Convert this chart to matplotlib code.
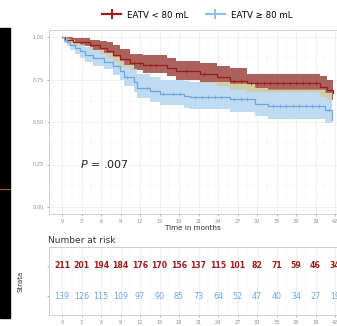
import matplotlib.pyplot as plt
import matplotlib.patches as mpatches
from matplotlib.lines import Line2D
import numpy as np

# Kaplan-Meier estimates
t_low = [0, 0.5, 1.7, 4.3, 5.8, 6.9, 7.9, 8.9, 10.5, 12.5, 16.1, 17.6, 21.2, 23.8, 25.8, 28.4, 39.7, 40.7, 41.7]
s_low = [1.00, 0.985, 0.973, 0.953, 0.935, 0.915, 0.895, 0.868, 0.848, 0.833, 0.817, 0.798, 0.782, 0.762, 0.740, 0.728, 0.708, 0.688, 0.669]
up_low = [1.00, 1.00, 0.995, 0.985, 0.978, 0.97, 0.955, 0.93, 0.9, 0.893, 0.875, 0.86, 0.845, 0.83, 0.818, 0.785, 0.77, 0.75, 0.735]
lo_low = [1.00, 0.965, 0.95, 0.925, 0.90, 0.875, 0.855, 0.825, 0.805, 0.79, 0.77, 0.75, 0.73, 0.71, 0.69, 0.675, 0.65, 0.63, 0.605]
cens_low = [11.0, 12.0, 13.5, 14.5, 19.0, 21.8, 26.5, 27.5, 29.0, 30.0, 31.0, 32.0, 33.0, 34.0, 35.0, 36.0, 37.0, 38.0, 39.0]

t_high = [0, 0.3, 0.8, 1.3, 2.0, 2.8, 3.6, 4.8, 6.4, 7.9, 8.9, 9.6, 11.0, 11.6, 13.5, 15.0, 18.7, 19.7, 25.8, 29.7, 31.7, 40.5, 41.5]
s_high = [1.00, 0.985, 0.97, 0.955, 0.935, 0.915, 0.895, 0.875, 0.855, 0.83, 0.80, 0.765, 0.735, 0.70, 0.68, 0.665, 0.653, 0.645, 0.633, 0.606, 0.594, 0.571, 0.512]
up_high = [1.00, 1.00, 0.99, 0.98, 0.97, 0.955, 0.94, 0.925, 0.905, 0.885, 0.86, 0.835, 0.81, 0.785, 0.765, 0.75, 0.74, 0.735, 0.725, 0.70, 0.69, 0.67, 0.62]
lo_high = [1.00, 0.965, 0.945, 0.925, 0.90, 0.875, 0.855, 0.83, 0.81, 0.775, 0.745, 0.71, 0.675, 0.64, 0.615, 0.60, 0.585, 0.575, 0.56, 0.535, 0.52, 0.495, 0.42]
cens_high = [10.0, 13.0, 15.5, 17.0, 18.2, 20.5, 21.5, 22.5, 23.5, 24.5, 26.5, 27.5, 28.5, 32.5, 33.5, 34.5, 35.5, 36.5, 37.5, 38.5, 39.5, 41.0]

risk_times = [0, 3, 6, 9, 12, 15, 18, 21, 24, 27, 30, 33, 36, 39, 42]
risk_low = [211, 201, 194, 184, 176, 170, 156, 137, 115, 101, 82, 71, 59, 46, 34]
risk_high = [139, 126, 115, 109, 97, 90, 85, 73, 64, 52, 47, 40, 34, 27, 19]

labels = ['EATV < 80 mL', 'EATV \u2265 80 mL']
red = '#9E1B1B'
blue = '#6EA6DC'
grey = '#8A8A8A'

fig = plt.figure(figsize=(3.37, 3.26), dpi=100)
W, H = 337, 326


def box(x0, y0, x1, y1):
    return [x0 / W, 1 - y1 / H, (x1 - x0) / W, (y1 - y0) / H]


def step_at(tt, vals, grid):
    idx = np.searchsorted(tt, grid, side='right') - 1
    return np.asarray(vals)[idx]


def style(ax):
    for sp in ax.spines.values():
        sp.set_color('#C8C8C8')
        sp.set_linewidth(0.6)
    ax.set_xticks(risk_times)
    ax.set_xticks(np.arange(-1.5, 43, 3), minor=True)
    ax.grid(True, which='major', color='#EAEAEA', lw=0.5)
    ax.grid(True, which='minor', color='#F3F3F3', lw=0.35)
    ax.set_axisbelow(True)
    ax.tick_params(which='major', length=1.5, width=0.4, color='#777777', labelsize=3.6, labelcolor=grey, pad=2)
    ax.tick_params(which='minor', length=0)
    ax.set_xlim(-2, 42.3)


# main survival panel
ax = fig.add_axes(box(49, 30.2, 337, 213.8))
style(ax)
ax.set_ylim(-0.04, 1.04)
ax.set_yticks([0, 0.25, 0.5, 0.75, 1.0])
ax.set_yticklabels(['0.00', '0.25', '0.50', '0.75', '1.00'])
ax.set_yticks([0.125, 0.375, 0.625, 0.875], minor=True)

ax.fill_between(t_low, lo_low, up_low, step='post', color='#A4534E', alpha=0.92, lw=0)
ax.fill_between(t_high, lo_high, up_high, step='post', color='#BCD9F1', alpha=0.95, lw=0)

# overlap of the two bands
grid = np.linspace(0, 41.7, 900)
ov_lo = np.maximum(step_at(t_low, lo_low, grid), step_at(t_high, lo_high, grid))
ov_hi = np.minimum(step_at(t_low, up_low, grid), step_at(t_high, up_high, grid))
ax.fill_between(grid, ov_lo, ov_hi, where=ov_hi > ov_lo, color='#CFCDA6', lw=0)

ax.step(t_low, s_low, where='post', color=red, lw=0.9)
ax.step(t_high, s_high, where='post', color=blue, lw=0.9)
ax.plot(cens_low, step_at(t_low, s_low, cens_low), ls='none', marker='|', ms=2.5, mew=0.5, color=red)
ax.plot(cens_high, step_at(t_high, s_high, cens_high), ls='none', marker='|', ms=2.5, mew=0.5, color=blue)

ax.set_xlabel('Time in months', fontsize=5.2, color='#333333', labelpad=1)
ax.set_ylabel('Cumulative freedom from recurrence', fontsize=4.8, color='#333333', labelpad=15)
ax.text(2.8, 0.25, '$P$ = .007', fontsize=8, color='#222222', va='center')

# legend
handles = [Line2D([], [], color=red, lw=1.6, marker='+', ms=7, mew=1.4),
           Line2D([], [], color='#8EC0E8', lw=1.6, marker='+', ms=7, mew=1.4)]
fig.legend(handles, labels, loc='center', bbox_to_anchor=(0.585, 1 - 15 / H), ncol=2, frameon=False,
           fontsize=6.2, handlelength=2.2, columnspacing=2.0, handletextpad=0.7)

# number at risk table
rax = fig.add_axes(box(49, 247, 337, 315))
style(rax)
rax.set_ylim(-0.6, 1.6)
rax.set_yticks([0, 1])
rax.set_yticklabels(['', ''])
rax.grid(False, axis='y')
for x, n in zip(risk_times, risk_low):
    rax.text(x, 1, str(n), ha='center', va='center', fontsize=5.6, color=red, fontweight='bold')
for x, n in zip(risk_times, risk_high):
    rax.text(x, 0, str(n), ha='center', va='center', fontsize=5.8, color=blue)
rax.set_xlabel('Time in months', fontsize=5.2, color='#333333', labelpad=1)
rax.set_ylabel('Strata', fontsize=5, color='#333333', labelpad=15)
rax.set_title('Number at risk', fontsize=6.5, color='#333333', loc='left', pad=3, x=-0.005)

# dark strip at the left edge of the source image
fig.patches.append(mpatches.Rectangle((0, 1 - 318 / H), 10 / W, 290 / H, transform=fig.transFigure,
                                      color='black', zorder=0))
fig.lines.append(Line2D([0, 10 / W], [1 - 189 / H] * 2, transform=fig.transFigure, color='#C8742C', lw=0.6))

fig.savefig('out.png', dpi=100)
